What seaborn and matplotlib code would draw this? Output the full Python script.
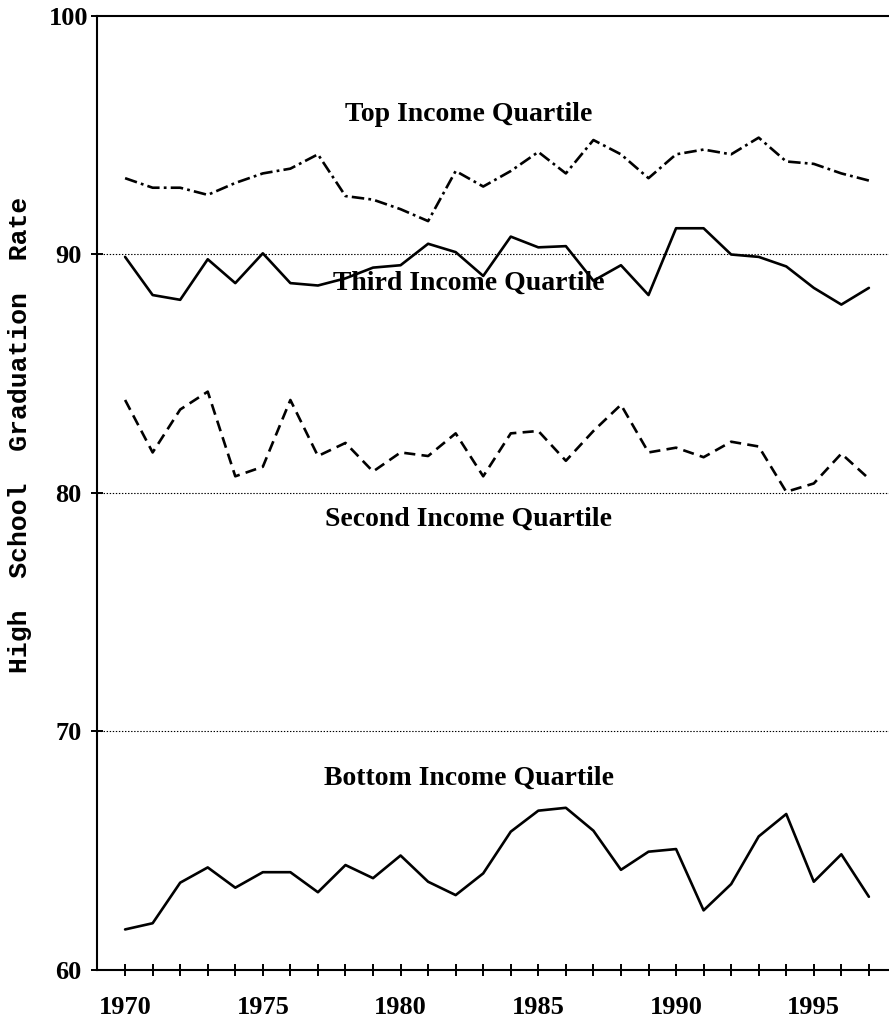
import seaborn as sns
import matplotlib.pyplot as plt
import pandas as pd

# graduation rates by income quartile
years = list(range(1970, 1998))
top = [93.2, 92.8, 92.8, 92.5, 93.0, 93.4, 93.6, 94.2, 92.45, 92.3, 91.9, 91.4, 93.5, 92.85,
       93.5, 94.3, 93.4, 94.8, 94.2, 93.2, 94.2, 94.4, 94.2, 94.9, 93.9, 93.8, 93.4, 93.1]
third = [89.9, 88.3, 88.1, 89.8, 88.8, 90.05, 88.8, 88.7, 89.0, 89.45, 89.55, 90.45, 90.1, 89.1,
         90.75, 90.3, 90.35, 88.9, 89.55, 88.3, 91.1, 91.1, 90.0, 89.9, 89.5, 88.6, 87.9, 88.6]
second = [83.9, 81.7, 83.5, 84.25, 80.7, 81.1, 83.9, 81.55, 82.1, 80.9, 81.7, 81.55, 82.5, 80.7,
          82.5, 82.6, 81.35, 82.6, 83.7, 81.7, 81.9, 81.5, 82.15, 81.95, 80.05, 80.4, 81.65, 80.6]
bottom = [61.7, 61.96, 63.66, 64.3, 63.45, 64.1, 64.1, 63.26, 64.4, 63.85, 64.8, 63.7, 63.14, 64.05,
          65.8, 66.68, 66.8, 65.84, 64.2, 64.96, 65.07, 62.5, 63.6, 65.6, 66.54, 63.7, 64.85, 63.07]

labels = ["Top Income Quartile", "Third Income Quartile",
          "Second Income Quartile", "Bottom Income Quartile"]
label_y = [95.85, 88.8, 78.9, 68.05]
yticks = [60, 70, 80, 90, 100]
xticks = [1970, 1975, 1980, 1985, 1990, 1995]

df = pd.DataFrame({"year": years, "top": top, "third": third,
                   "second": second, "bottom": bottom})

sns.set_style("ticks")
plt.rcParams["font.family"] = ["Liberation Serif", "DejaVu Serif"]
plt.rcParams["lines.scale_dashes"] = False
for k in ["text.color", "axes.labelcolor", "xtick.color", "ytick.color"]:
    plt.rcParams[k] = "black"

fig = plt.figure(figsize=(8.89, 10.26), dpi=100)
ax = fig.add_axes([0.1091, 0.0546, 0.8909, 0.9298])

lw = 1.9
sns.lineplot(x="year", y="top", data=df, ax=ax, color="black", lw=lw,
             linestyle=(0, (9, 3, 2, 3)))
sns.lineplot(x="year", y="third", data=df, ax=ax, color="black", lw=lw)
sns.lineplot(x="year", y="second", data=df, ax=ax, color="black", lw=lw,
             linestyle=(0, (8, 4.5)))
sns.lineplot(x="year", y="bottom", data=df, ax=ax, color="black", lw=lw)

for txt, yv in zip(labels, label_y):
    ax.text(1982.48, yv, txt, ha="center", va="center", fontsize=20,
            fontweight="bold", color="black")

for g in [70, 80, 90]:
    ax.axhline(g, color="black", lw=0.8, linestyle=(0, (1, 1.2)), zorder=0)

ax.set_xlim(1968.98, 1997.73)
ax.set_ylim(60, 100)
ax.set_xticks(years)
ax.set_xticklabels([str(y) if y in xticks else "" for y in years])
ax.set_yticks(yticks)
ax.set_yticklabels([str(v) for v in yticks])
ax.tick_params(axis="both", direction="inout", length=9, width=1.4,
               labelsize=19, color="black", labelcolor="black")
ax.tick_params(axis="x", pad=14)
ax.tick_params(axis="y", pad=16)
for t in ax.get_xticklabels() + ax.get_yticklabels():
    t.set_fontweight("bold")
for t in ax.get_yticklabels():
    t.set_horizontalalignment("center")

ax.set_xlabel("")
ax.set_ylabel("")
fig.text(0.023, 0.576, "High  School  Graduation  Rate", rotation=90,
         ha="center", va="center", fontsize=19, fontweight="bold",
         family="Liberation Mono", color="black")

for s in ["left", "bottom", "top"]:
    ax.spines[s].set_linewidth(1.5)
    ax.spines[s].set_color("black")
ax.spines["right"].set_visible(False)

fig.savefig("out.png", dpi=100)
